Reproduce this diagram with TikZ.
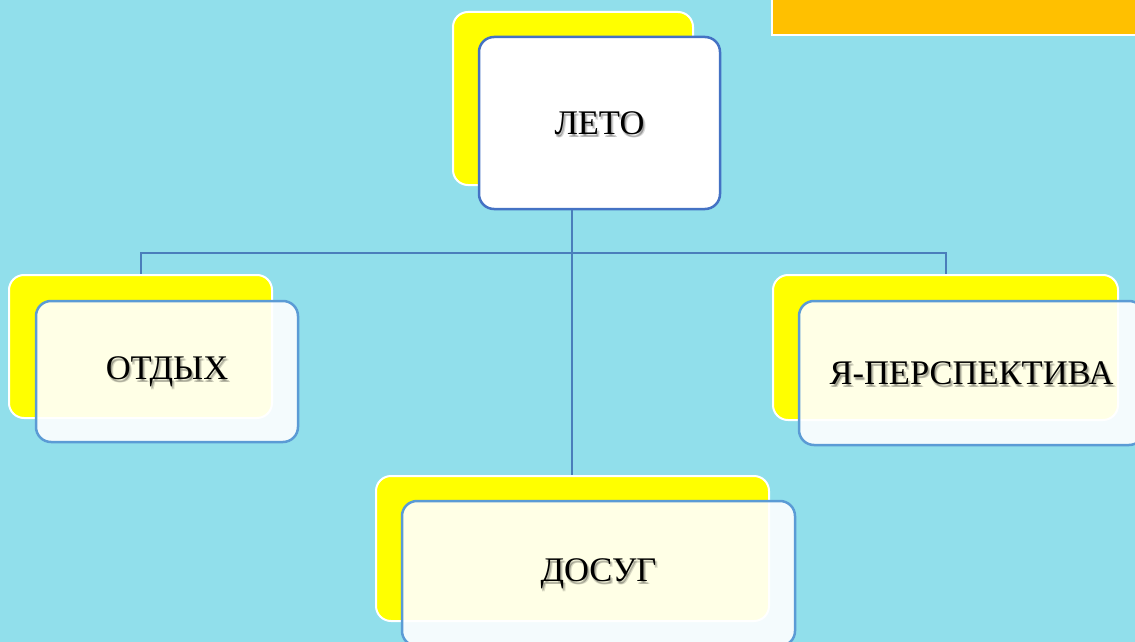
\documentclass[tikz,border=0pt]{standalone}
\usepackage{fontspec}
\setmainfont{Liberation Serif}
\definecolor{bgc}{RGB}{145,223,235}
\definecolor{yel}{RGB}{255,255,0}
\definecolor{org}{RGB}{255,192,0}
\definecolor{edgeA}{RGB}{68,114,196}
\definecolor{edgeB}{RGB}{91,155,213}
\definecolor{conc}{RGB}{74,126,187}
\tikzset{
  backbox/.style={draw=white, line width=2pt, fill=yel, rounded corners=15pt, inner sep=0pt},
  frontbox/.style={draw=edgeB, line width=2.5pt, fill=white, fill opacity=0.9, rounded corners=15pt, inner sep=0pt},
  topbox/.style={draw=edgeA, line width=2.5pt, fill=white, rounded corners=15pt, inner sep=0pt},
  lbl/.style={font=\fontsize{34.5}{38}\selectfont, text=black, inner sep=0pt},
  shd/.style={font=\fontsize{34.5}{38}\selectfont, text=black, text opacity=0.15, inner sep=0pt},
  conn/.style={draw=conc, line width=2pt}
}
\begin{document}
\begin{tikzpicture}[x=1pt,y=-1pt]
\useasboundingbox (0,0) rectangle (1135,642);
\clip (0,0) rectangle (1135,642);
\fill[bgc] (0,0) rectangle (1135,642);
% orange banner
\node[draw=white, line width=2pt, fill=org, minimum width=370pt, minimum height=40pt, inner sep=0pt] (banner) at (957,15) {};
% back boxes
\node[backbox, minimum width=240pt, minimum height=173pt] (letoY) at (573,98.5) {};
\node[backbox, minimum width=263pt, minimum height=143pt] (otdyhY) at (140.5,346.5) {};
\node[backbox, minimum width=345pt, minimum height=145pt] (perspY) at (945.5,347.5) {};
\node[backbox, minimum width=393pt, minimum height=145pt] (dosugY) at (572.5,548.5) {};
% top box
\node[topbox, minimum width=241pt, minimum height=172pt] (leto) at (599.5,123) {};
% connectors
\coordinate (bus) at (572,253);
\draw[conn] (bus |- leto.south) -- (bus);
\draw[conn] (bus) -| (otdyhY.north);
\draw[conn] (bus) -| (perspY.north);
\draw[conn] (bus) -- (bus |- dosugY.north);
% front boxes
\node[frontbox, minimum width=262pt, minimum height=141pt] (otdyh) at (167,371.5) {};
\node[frontbox, minimum width=345pt, minimum height=144pt] (persp) at (971.5,373) {};
\node[frontbox, minimum width=393pt, minimum height=145pt] (dosug) at (598.5,573.5) {};
% labels with soft shadow
\foreach \n/\t in {leto/ЛЕТО, otdyh/ОТДЫХ, persp/Я-ПЕРСПЕКТИВА, dosug/ДОСУГ}{
  \node[shd] (\n S1) at ([shift={(1.5pt,-2pt)}]\n.center) {\t};
  \node[shd] (\n S2) at ([shift={(2.5pt,-3pt)}]\n.center) {\t};
  \node[shd] (\n S3) at ([shift={(1pt,-3pt)}]\n.center) {\t};
  \node[lbl] (\n T) at (\n.center) {\t};
}
\end{tikzpicture}
\end{document}
